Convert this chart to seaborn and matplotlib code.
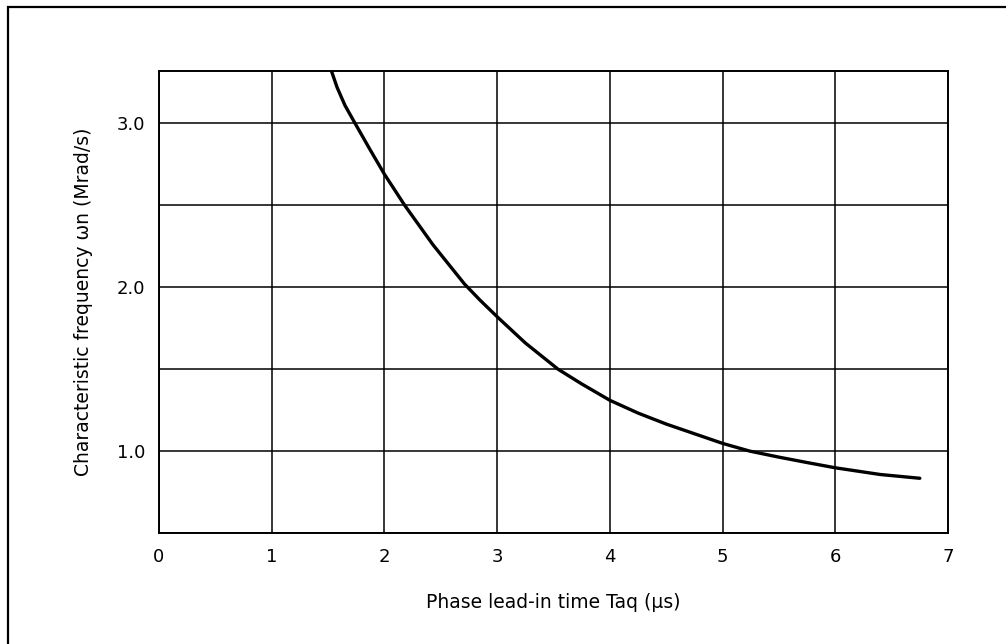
import matplotlib
matplotlib.use("Agg")
import matplotlib.pyplot as plt
from matplotlib.patches import Rectangle
from matplotlib.ticker import MultipleLocator
import pandas as pd
import seaborn as sns

# values
lead_time_us = [1.53, 1.58, 1.65, 1.74, 1.87, 2.0, 2.18, 2.43, 2.71, 2.85, 3.0,
                3.25, 3.54, 3.75, 4.0, 4.25, 4.5, 5.0, 5.24, 5.5, 5.75,
                6.0, 6.4, 6.75]
omega_n_mrad = [3.32, 3.22, 3.11, 3.0, 2.843, 2.69, 2.5, 2.26, 2.02, 1.92, 1.82,
                1.66, 1.5, 1.41, 1.31, 1.232, 1.165, 1.047, 1.0, 0.963, 0.93,
                0.898, 0.857, 0.834]

x_ticks = [0, 1, 2, 3, 4, 5, 6, 7]
y_ticks = [1.0, 2.0, 3.0]
y_tick_labels = ["1.0", "2.0", "3.0"]


def main():
    sns.set_style("white")
    plt.rcParams["font.family"] = ["DejaVu Sans"]
    plt.rcParams["text.color"] = "black"
    plt.rcParams["axes.labelcolor"] = "black"

    df = pd.DataFrame({"t": lead_time_us, "w": omega_n_mrad})

    fig = plt.figure(figsize=(10.06, 6.44), dpi=100)
    ax = fig.add_axes([159 / 1006, 1 - 533 / 644, (948 - 159) / 1006, (533 - 71) / 644])

    sns.lineplot(data=df, x="t", y="w", ax=ax, color="black", linewidth=2.4,
                 sort=False, estimator=None)

    ax.set_xlim(0, 7)
    ax.set_ylim(0.5, 3.32)
    ax.set_xticks(x_ticks)
    ax.set_xticklabels([str(v) for v in x_ticks])
    ax.set_yticks(y_ticks)
    ax.set_yticklabels(y_tick_labels)
    ax.yaxis.set_minor_locator(MultipleLocator(0.5))
    ax.grid(which="both", color="black", linewidth=1.1)
    ax.set_axisbelow(True)
    ax.tick_params(which="both", length=0, labelsize=13, colors="black")
    ax.tick_params(axis="x", pad=11)
    ax.tick_params(axis="y", pad=10)
    for s in ax.spines.values():
        s.set_visible(True)
        s.set_color("black")
        s.set_linewidth(1.4)

    ax.set_xlabel("Phase lead-in time Taq (µs)", fontsize=13.5, labelpad=19)
    ax.set_ylabel("Characteristic frequency ωn (Mrad/s)", fontsize=13.5, labelpad=17)

    # outer border of the figure panel
    fig.patches.append(Rectangle((8 / 1006, -0.05), 1.1, 1.05 - 6.5 / 644,
                                 transform=fig.transFigure, fill=False,
                                 edgecolor="black", linewidth=1.6))

    fig.savefig("out.png", dpi=100)
    plt.close(fig)


if __name__ == "__main__":
    main()
